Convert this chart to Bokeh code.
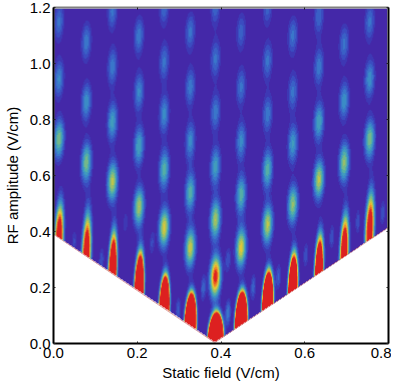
import numpy as np
from bokeh.plotting import figure
from bokeh.models import LinearColorMapper, LinearAxis, Range1d, FixedTicker, NumeralTickFormatter
from bokeh.embed import file_html
from bokeh.resources import INLINE

# Resonance spots: x (V/cm), y (V/cm), height
spot_x = [0.013]*3 + [0.078]*3 + [0.140]*4 + [0.203]*4 + [0.263]*5 + [0.325]*5 + [0.386]*6 + [0.447]*5 + [0.510]*5 + [0.570]*4 + [0.632]*4 + [0.692]*3 + [0.754]*3
spot_y = [1.147, 0.943, 0.728,
          1.075, 0.860, 0.645,
          1.186, 0.986, 0.789, 0.577,
          1.097, 0.896, 0.703, 0.487,
          1.200, 1.004, 0.817, 0.620, 0.412,
          1.111, 0.914, 0.720, 0.538, 0.340,
          1.200, 1.014, 0.824, 0.631, 0.441, 0.237,
          1.111, 0.914, 0.720, 0.530, 0.340,
          1.200, 1.007, 0.817, 0.620, 0.423,
          1.097, 0.896, 0.710, 0.495,
          1.168, 0.986, 0.789, 0.584,
          1.068, 0.864, 0.645,
          1.147, 0.943, 0.728]
spot_h = [0.28, 0.33, 0.52,
          0.30, 0.36, 0.52,
          0.28, 0.30, 0.40, 0.60,
          0.30, 0.33, 0.42, 0.58,
          0.26, 0.28, 0.34, 0.46, 0.65,
          0.28, 0.30, 0.34, 0.46, 0.62,
          0.25, 0.28, 0.30, 0.40, 0.58, 0.92,
          0.24, 0.28, 0.34, 0.46, 0.66,
          0.24, 0.28, 0.30, 0.46, 0.60,
          0.28, 0.28, 0.38, 0.54,
          0.26, 0.30, 0.42, 0.60,
          0.28, 0.36, 0.54,
          0.28, 0.36, 0.52]
spot_wx = [0.0092]
spot_wy = [0.052]

# Strong arches that rise from the lower edge of the data
arch_x = [0.013, 0.078, 0.140, 0.203, 0.263, 0.325, 0.386, 0.447, 0.510, 0.570, 0.632, 0.692, 0.754]
arch_y = [0.370, 0.310, 0.245, 0.180, 0.120, 0.060, 0.000, 0.065, 0.130, 0.190, 0.250, 0.315, 0.398]
arch_h = [1.3, 1.35, 2.2, 3.5, 5.0, 8.0, 15.0, 8.0, 6.0, 3.5, 2.2, 1.5, 1.25]
arch_wx = [0.0070, 0.0070, 0.0060, 0.0062, 0.0062, 0.0065, 0.0078, 0.0068, 0.0064, 0.0062, 0.0062, 0.0066, 0.0070]
arch_wy = [0.085, 0.098, 0.088, 0.078, 0.062, 0.055, 0.045, 0.055, 0.062, 0.070, 0.080, 0.090, 0.092]

# Faint side features
side_x = [0.049, 0.114, 0.171, 0.234, 0.296, 0.356, 0.416, 0.416, 0.476, 0.536, 0.601, 0.663, 0.725, 0.785]
side_y = [0.362, 0.297, 0.430, 0.358, 0.118, 0.197, 0.108, 0.297, 0.200, 0.237, 0.315, 0.380, 0.434, 0.466]
side_h = [0.17, 0.20, 0.15, 0.17, 0.22, 0.24, 0.30, 0.20, 0.24, 0.22, 0.20, 0.20, 0.20, 0.20]
side_wx = [0.0052]
side_wy = [0.036]

tilt = 0.025

# Lower edge of the measured region
edge_x = [0.0, 0.385, 0.8]
edge_y = [0.390, 0.003, 0.415]

palette = ["#4428A8", "#3E38B4", "#3B4CC0", "#3A60C6", "#3A76CA", "#3B8CC6", "#429CBC", "#55AEA6",
           "#74B88A", "#98BF6A", "#BEC64C", "#E2C638", "#EEA82E", "#EE8628", "#E65E24", "#DF2A20", "#DD2020"]

nx, ny = 668, 668
xs = np.linspace(0.002, 0.797, nx)
ys = np.linspace(0.0, 1.196, ny)
X, Y = np.meshgrid(xs, ys)
field = np.zeros_like(X)


def add(cx, cy, h, wx, wy):
    global field
    dx = X - cx - tilt * (Y - cy)
    dy = Y - cy
    field = field + h * np.exp(-0.5 * (dx / wx) ** 2 - 0.5 * (dy / wy) ** 2)


for a, b, c in zip(spot_x, spot_y, spot_h):
    add(a, b, c, spot_wx[0], spot_wy[0])
for a, b, c, d, e in zip(arch_x, arch_y, arch_h, arch_wx, arch_wy):
    add(a, b, c, d, e)
for a, b, c in zip(side_x, side_y, side_h):
    add(a, b, c, side_wx[0], side_wy[0])

field[Y < np.interp(X, edge_x, edge_y)] = np.nan

x_ticks = [0.0, 0.2, 0.4, 0.6, 0.8]
y_ticks = [0.0, 0.2, 0.4, 0.6, 0.8, 1.0, 1.2]

p = figure(width=391, height=384, output_backend="svg", toolbar_location=None,
           x_range=Range1d(0, 0.8), y_range=Range1d(0, 1.2),
           x_axis_label="Static field (V/cm)", y_axis_label="RF amplitude (V/cm)",
           min_border_left=46, min_border_right=3, min_border_top=8, min_border_bottom=40,
           margin=(-1, -8, -8, 0))
p.grid.visible = False
p.outline_line_color = None
p.background_fill_color = "white"

mapper = LinearColorMapper(palette=palette, low=0.05, high=0.95, nan_color=(255, 255, 255, 0))
p.image(image=[field], x=xs[0], y=ys[0], dw=xs[-1] - xs[0], dh=ys[-1] - ys[0], color_mapper=mapper)
p.line(edge_x, edge_y, line_color="#C04040", line_width=1, line_alpha=0.45)

bottom = p.below[0]
left = p.left[0]
top = LinearAxis(major_label_overrides={t: "" for t in x_ticks})
right = LinearAxis(major_label_overrides={t: "" for t in y_ticks})
p.add_layout(top, "above")
p.add_layout(right, "right")

for ax, tk in ((bottom, x_ticks), (left, y_ticks), (top, x_ticks), (right, y_ticks)):
    ax.ticker = FixedTicker(ticks=tk)
    ax.formatter = NumeralTickFormatter(format="0.0")
    ax.minor_tick_line_color = None
    ax.major_tick_in = 2
    ax.major_tick_out = 0
    ax.major_tick_line_color = "#222222"
    ax.axis_line_color = "black"
    ax.axis_line_width = 2
    ax.major_label_text_font = "Liberation Sans"
    ax.major_label_text_font_size = "15px"
    ax.major_label_text_color = "black"
    ax.axis_label_text_font = "Liberation Sans"
    ax.axis_label_text_font_size = "15px"
    ax.axis_label_text_font_style = "normal"
    ax.axis_label_text_color = "black"

top.axis_line_color = "#808080"
for ax in (top, right):
    ax.major_label_standoff = 0
    ax.major_label_text_font_size = "1px"
bottom.major_label_standoff = 4
left.major_label_standoff = 3
bottom.axis_label_standoff = 3
left.axis_label_standoff = 6

open("out.html", "w").write(file_html(p, INLINE))
